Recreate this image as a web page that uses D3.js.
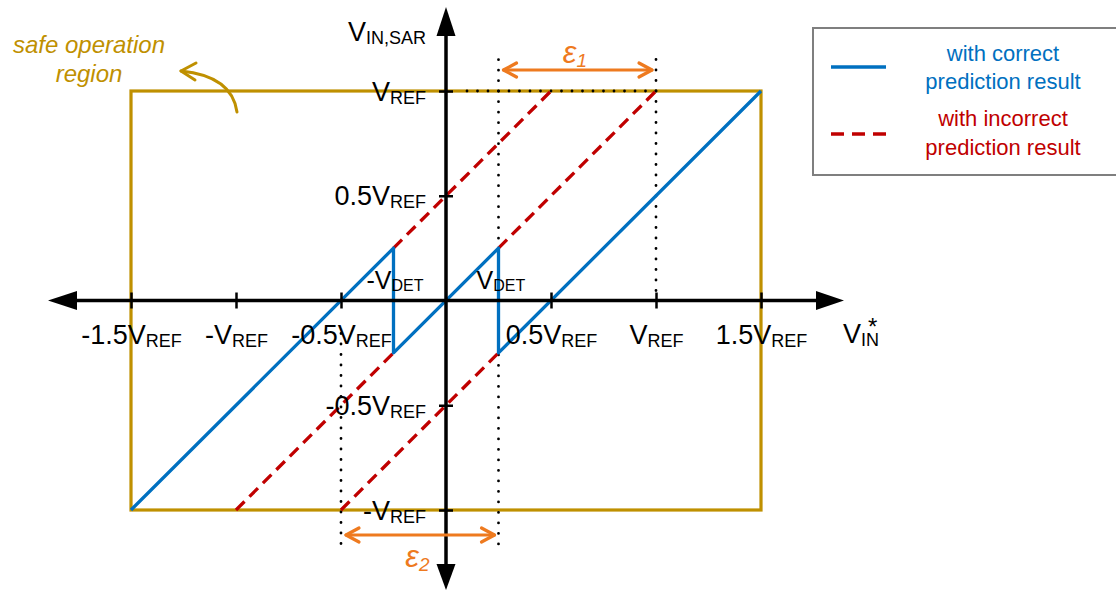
<!DOCTYPE html>
<html>
<head>
<meta charset="utf-8">
<script src="https://cdn.jsdelivr.net/npm/d3@7"></script>
<style>
  body { margin: 0; background: #fff; }
  svg { display: block; }
  text { font-family: "Liberation Sans", Arial, sans-serif; }
</style>
</head>
<body>
<svg id="chart" width="1116" height="591"></svg>
<script>
// Transfer characteristic of the SAR input vs. V_IN*, with and without a correct prediction.

const xTickValues = [-1.5, -1, -0.5, 0.5, 1, 1.5];
const xTickMain   = ["-1.5V", "-V", "-0.5V", "0.5V", "V", "1.5V"];
const yTickValues = [1, 0.5, -0.5, -1];
const yTickMain   = ["V", "0.5V", "-0.5V", "-V"];
const tickSub     = "REF";

// correct prediction: a single polyline with the two V_DET jumps
const correctCurve = [[-1.5, -1], [-0.25, 0.25], [-0.25, -0.25], [0.25, 0.25], [0.25, -0.25], [1.5, 1]];
// incorrect prediction: the dashed continuations
const incorrectCurves = [
  [[-0.25, 0.25], [0.5, 1]],
  [[0.25, 0.25], [1, 1]],
  [[-1, -1], [-0.25, -0.25]],
  [[-0.5, -1], [0.25, -0.25]]
];
const safeX = [-1.5, 1.5];
const safeY = [-1, 1];
const eps1 = [0.25, 1];
const eps2 = [-0.5, 0.25];
const vDetLabels = [["-V", "DET", -0.25], ["V", "DET", 0.25]];
const legendItems = [
  ["with correct", "prediction result"],
  ["with incorrect", "prediction result"]
];

const GOLD = "#BF9000", BLUE = "#0070C0", RED = "#C00000", ORANGE = "#EE7A1F";
const MAIN = 27, SUB = 18;

const svg = d3.select("#chart");
const x = d3.scaleLinear().domain([-1.5, 1.5]).range([131, 761]);
const y = d3.scaleLinear().domain([-1, 1]).range([510, 91]);
const x0 = x(0), y0 = y(0);

// safe operation region
svg.append("rect")
  .attr("x", x(safeX[0])).attr("y", y(safeY[1]))
  .attr("width", x(safeX[1]) - x(safeX[0]))
  .attr("height", y(safeY[0]) - y(safeY[1]))
  .attr("fill", "none").attr("stroke", GOLD).attr("stroke-width", 3.2);

// dotted guides
const dotted = (x1, y1, x2, y2) => svg.append("line")
  .attr("x1", x1).attr("y1", y1).attr("x2", x2).attr("y2", y2)
  .attr("stroke", "#000").attr("stroke-width", 2.8)
  .attr("stroke-linecap", "round").attr("stroke-dasharray", "0 10.5");
dotted(x(eps1[1]), y0 - 10, x(eps1[1]), 58);
dotted(x(eps1[0]), y(0.25) - 10, x(eps1[0]), 58);
dotted(x(eps2[1]), y(-0.25) + 2, x(eps2[1]), 553);
dotted(x(eps2[0]), y0 + 33, x(eps2[0]), 553);
dotted(x(eps1[1]), y(1), x0 + 11, y(1));

// incorrect prediction (dashed)
const line = d3.line().x(d => x(d[0])).y(d => y(d[1]));
svg.append("g").selectAll("path").data(incorrectCurves).join("path")
  .attr("d", line).attr("fill", "none").attr("stroke", RED)
  .attr("stroke-width", 3.3).attr("stroke-dasharray", "12 7");

// correct prediction (solid)
svg.append("path").datum(correctCurve).attr("d", line)
  .attr("fill", "none").attr("stroke", BLUE).attr("stroke-width", 3.3)
  .attr("stroke-linejoin", "round");

// axes
const axisG = svg.append("g");
axisG.append("line").attr("x1", 75).attr("x2", 820).attr("y1", y0).attr("y2", y0)
  .attr("stroke", "#000").attr("stroke-width", 3.5);
axisG.append("line").attr("x1", x0).attr("x2", x0).attr("y1", 30).attr("y2", 567)
  .attr("stroke", "#000").attr("stroke-width", 3.5);
axisG.append("path").attr("d", `M48,${y0} L77,${y0 - 9.5} L77,${y0 + 9.5} Z`);
axisG.append("path").attr("d", `M844,${y0} L816,${y0 - 9.5} L816,${y0 + 9.5} Z`);
axisG.append("path").attr("d", `M${x0},7 L${x0 - 9.5},36 L${x0 + 9.5},36 Z`);
axisG.append("path").attr("d", `M${x0},590 L${x0 - 9.5},564 L${x0 + 9.5},564 Z`);

// x ticks via d3 axis, then cross the axis line
const xAxis = svg.append("g").attr("transform", `translate(0,${y0})`)
  .call(d3.axisBottom(x).tickValues(xTickValues).tickSize(8).tickFormat(""));
xAxis.select(".domain").remove();
xAxis.selectAll(".tick line").attr("y1", -8).attr("y2", 8)
  .attr("stroke", "#000").attr("stroke-width", 2.5);
xAxis.selectAll(".tick").each(function (d, i) {
  const t = d3.select(this).append("text")
    .attr("y", 43).attr("text-anchor", "middle")
    .attr("fill", "#000").attr("font-size", MAIN);
  t.append("tspan").text(xTickMain[i]);
  t.append("tspan").attr("font-size", SUB).attr("dy", 3).text(tickSub);
});

const yAxis = svg.append("g").attr("transform", `translate(${x0},0)`)
  .call(d3.axisLeft(y).tickValues(yTickValues).tickSize(7).tickFormat(""));
yAxis.select(".domain").remove();
yAxis.selectAll(".tick line").attr("x1", -7).attr("x2", 7)
  .attr("stroke", "#000").attr("stroke-width", 2.5);
yAxis.selectAll(".tick").each(function (d, i) {
  const t = d3.select(this).append("text")
    .attr("x", -20).attr("y", 9).attr("text-anchor", "end")
    .attr("fill", "#000").attr("font-size", MAIN);
  t.append("tspan").text(yTickMain[i]);
  t.append("tspan").attr("font-size", SUB).attr("dy", 3).text(tickSub);
});

// axis titles
const yt = svg.append("text").attr("x", x0 - 20).attr("y", 41)
  .attr("text-anchor", "end").attr("font-size", MAIN);
yt.append("tspan").text("V");
yt.append("tspan").attr("font-size", SUB).attr("dy", 3).text("IN,SAR");

const xt = svg.append("text").attr("x", 843).attr("y", 343).attr("font-size", MAIN);
xt.append("tspan").text("V");
xt.append("tspan").attr("font-size", SUB).attr("dy", 3).text("IN");
xt.append("tspan").attr("font-size", 24).attr("dx", -11).attr("dy", -11).text("*");

// V_DET labels
vDetLabels.forEach(([m, s, v]) => {
  const t = svg.append("text").attr("x", x(v) + (v < 0 ? -27 : -22)).attr("y", 289)
    .attr("font-size", 25);
  t.append("tspan").text(m);
  t.append("tspan").attr("font-size", 16).attr("dy", 2).text(s);
});

// epsilon spans
function span(range, yy, name, ly) {
  const a = x(range[0]) + 5, b = x(range[1]) - 4;
  const g = svg.append("g").attr("stroke", ORANGE).attr("stroke-width", 3.2)
    .attr("fill", "none").attr("stroke-linecap", "round").attr("stroke-linejoin", "round");
  g.append("line").attr("x1", a).attr("x2", b).attr("y1", yy).attr("y2", yy);
  g.append("path").attr("d", `M${a + 13},${yy - 7} L${a},${yy} L${a + 13},${yy + 7}`);
  g.append("path").attr("d", `M${b - 13},${yy - 7} L${b},${yy} L${b - 13},${yy + 7}`);
  const t = svg.append("text").attr("x", (a + b) / 2 - 15).attr("y", ly)
    .attr("fill", ORANGE).attr("font-style", "italic").attr("font-size", 31);
  t.append("tspan").text("ε");
  t.append("tspan").attr("font-size", 19).attr("dy", 4).text(name);
}
span(eps1, 70, "1", 63);
span(eps2, 535, "2", 567);

// safe operation region annotation
const ann = svg.append("text").attr("fill", GOLD).attr("font-style", "italic")
  .attr("font-size", 24).attr("text-anchor", "middle");
ann.append("tspan").attr("x", 89).attr("y", 53).text("safe operation");
ann.append("tspan").attr("x", 89).attr("y", 82).text("region");
const ax = x(-1), ay = y(1);
const annArrow = svg.append("g").attr("stroke", GOLD).attr("stroke-width", 3)
  .attr("fill", "none").attr("stroke-linecap", "round").attr("stroke-linejoin", "round");
annArrow.append("path").attr("d", `M${ax + 1},${ay + 21} Q${ax - 4},${ay - 15} ${ax - 55},${ay - 20}`);
annArrow.append("path").attr("d", `M${ax - 40},${ay - 28} L${ax - 55},${ay - 20} L${ax - 41},${ay - 11}`);

// legend
const lg = svg.append("g");
lg.append("rect").attr("x", 813).attr("y", 28).attr("width", 320).attr("height", 147)
  .attr("fill", "#fff").attr("stroke", "#7F7F7F").attr("stroke-width", 2);
lg.append("line").attr("x1", 831).attr("x2", 886).attr("y1", 67).attr("y2", 67)
  .attr("stroke", BLUE).attr("stroke-width", 3.3);
lg.append("line").attr("x1", 831).attr("x2", 886).attr("y1", 134).attr("y2", 134)
  .attr("stroke", RED).attr("stroke-width", 3.3).attr("stroke-dasharray", "13 8");
legendItems.forEach((lines, i) => {
  const t = lg.append("text").attr("text-anchor", "middle").attr("font-size", 22)
    .attr("fill", i === 0 ? BLUE : RED);
  t.append("tspan").attr("x", 1003).attr("y", 61 + i * 65).text(lines[0]);
  t.append("tspan").attr("x", 1003).attr("y", 89 + i * 66).text(lines[1]);
});
</script>
</body>
</html>
